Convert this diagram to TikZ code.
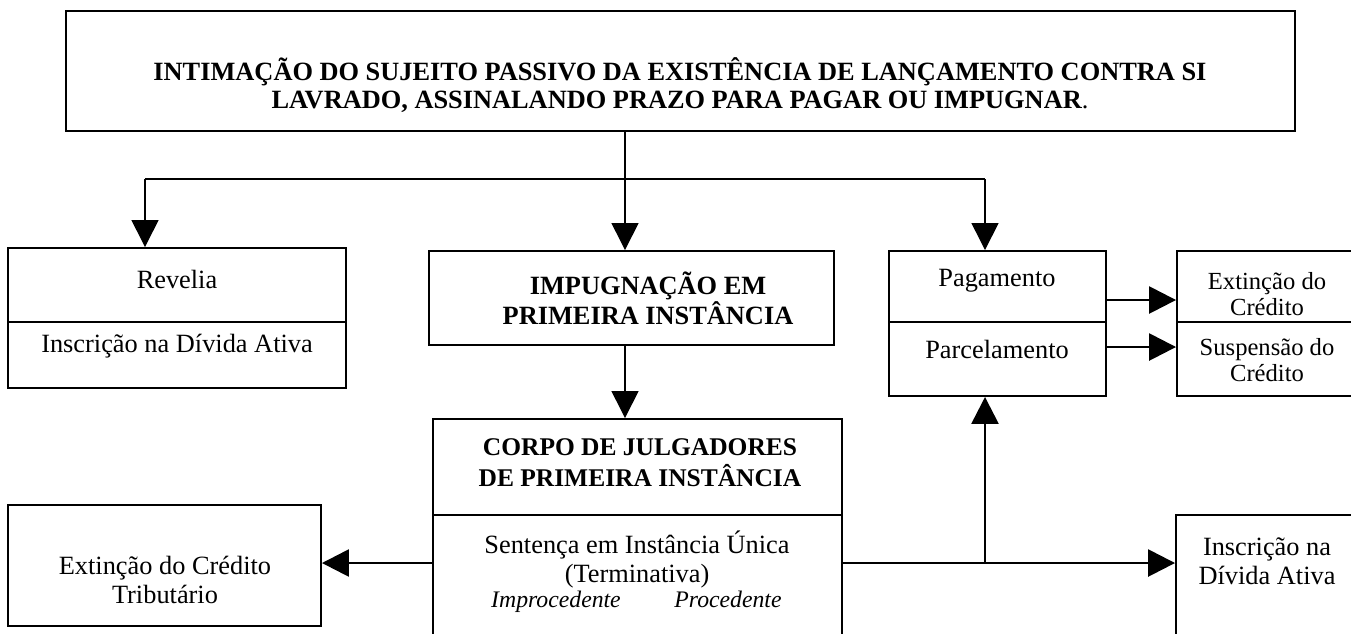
\documentclass[tikz,border=0pt]{standalone}
\usepackage{fontspec}
\setmainfont{Liberation Serif}
\usepackage{tikz}
\usetikzlibrary{fit}
\usetikzlibrary{positioning}
\usetikzlibrary{arrows.meta}

\begin{document}
\begin{tikzpicture}[
            > = {Triangle[length=0.54cm, width=0.54cm]}, % big filled heads
            x = 0.02cm, y = -0.02cm, % one unit is one pixel
            font = \fontsize{15}{16.5}\selectfont
        ]

        \tikzstyle{box}=[
            draw,
            line width = 1.1pt,
            inner sep = 0pt
        ]
        \tikzstyle{txt}=[
            align = center,
            inner sep = 0pt
        ]
        \tikzstyle{tree}=[line width = 0.8pt]
        \tikzstyle{flow}=[line width = 1.5pt]

        \path[use as bounding box] (0,0) rectangle (1351,633);
        \clip (0,0) rectangle (1351,633);

	% notice
        \node[box, fit={(66,11) (1295,131)}] (top) {};
        \node[txt, font=\fontsize{15}{15.5}\selectfont] (topT) at (680,85) {\bfseries INTIMAÇÃO DO SUJEITO PASSIVO DA EXISTÊNCIA DE LANÇAMENTO CONTRA SI\\
            {\bfseries LAVRADO, ASSINALANDO PRAZO PARA PAGAR OU IMPUGNAR}.};

        % revelia
        \node[box, fit={(8,248) (346,322)}] (revA) {};
        \node[box, fit={(8,322) (346,388)}] (revB) {};
        \node[txt] (revT) at (177,279) {Revelia};
        \node[txt] (revI) at (177,346) {Inscrição na Dívida Ativa};

        % impugnacao
        \node[box, fit={(429,251) (834,345)}] (imp) {};
        \node[txt, font=\fontsize{15}{17}\selectfont\bfseries] (impT) at (648,298) {IMPUGNAÇÃO EM\\PRIMEIRA INSTÂNCIA};

        % pagamento
        \node[box, fit={(889,251) (1106,322)}] (pagA) {};
        \node[box, fit={(889,322) (1106,396)}] (pagB) {};
        \node[txt] (pagT) at (997,281) {Pagamento};
        \node[txt] (parT) at (997,349) {Parcelamento};

        \node[box, fit={(1177,251) (1360,322)}] (cred) {};
        \node[box, fit={(1177,322) (1360,396)}] (susp) {};
        \node[txt, font=\fontsize{14}{15}\selectfont] (credT) at (1267,294) {Extinção do\\Crédito};
        \node[txt, font=\fontsize{14}{15}\selectfont] (suspT) at (1267,360) {Suspensão do\\Crédito};

        \draw[flow,->] ([yshift=-0.27cm]pagA.east) -- ([yshift=-0.27cm]pagA.east -| cred.west);
        \draw[flow,->] ([yshift=0.24cm]pagB.east) -- ([yshift=0.24cm]pagB.east -| susp.west);

        % julgadores
        \node[box, fit={(433,419) (842,515)}] (corpoA) {};
        \node[box, fit={(433,515) (842,660)}] (corpoB) {};
        \node[txt, font=\fontsize{14.5}{17.5}\selectfont\bfseries] (corpoT) at (640,463) {CORPO DE JULGADORES\\DE PRIMEIRA INSTÂNCIA};
        \node[txt] (sentT) at (637,559) {Sentença em Instância Única\\(Terminativa)};
        \node[txt, anchor=base, font=\fontsize{13.5}{15}\selectfont\itshape] (impr) at (556,607) {Improcedente};
        \node[txt, anchor=base, font=\fontsize{13.5}{15}\selectfont\itshape] (proc) at (728,607) {Procedente};

        % outcomes
        \node[box, fit={(8,505) (321,626)}] (ext) {};
        \node[txt] (extT) at (165,580) {Extinção do Crédito\\Tributário};
        \node[box, fit={(1176,515) (1360,660)}] (insc) {};
        \node[txt] (inscT) at (1267,561) {Inscrição na\\Dívida Ativa};

        % connectors
        \coordinate (hub) at (625,179);
        \coordinate (hubL) at (145,179);
        \coordinate (hubR) at (985,179);
        \draw[tree] (hub |- top.south) -- (hub);
        \draw[tree] (hubL) -- (hubR);
        \draw[tree,->] (hubL) -- (hubL |- revA.north);
        \draw[tree,->] (hub) -- (hub |- imp.north);
        \draw[tree,->] (hubR) -- (hubR |- pagA.north);
        \draw[tree,->] (hub |- imp.south) -- (hub |- corpoA.north);

        \coordinate (junc) at (985,563);
        \draw[flow,->] (junc -| corpoB.west) -- (junc -| ext.east);
        \draw[flow,->] (junc -| corpoB.east) -- (junc -| insc.west);
        \draw[flow,->] (junc) -- (junc |- pagB.south);

\end{tikzpicture}
\end{document}
